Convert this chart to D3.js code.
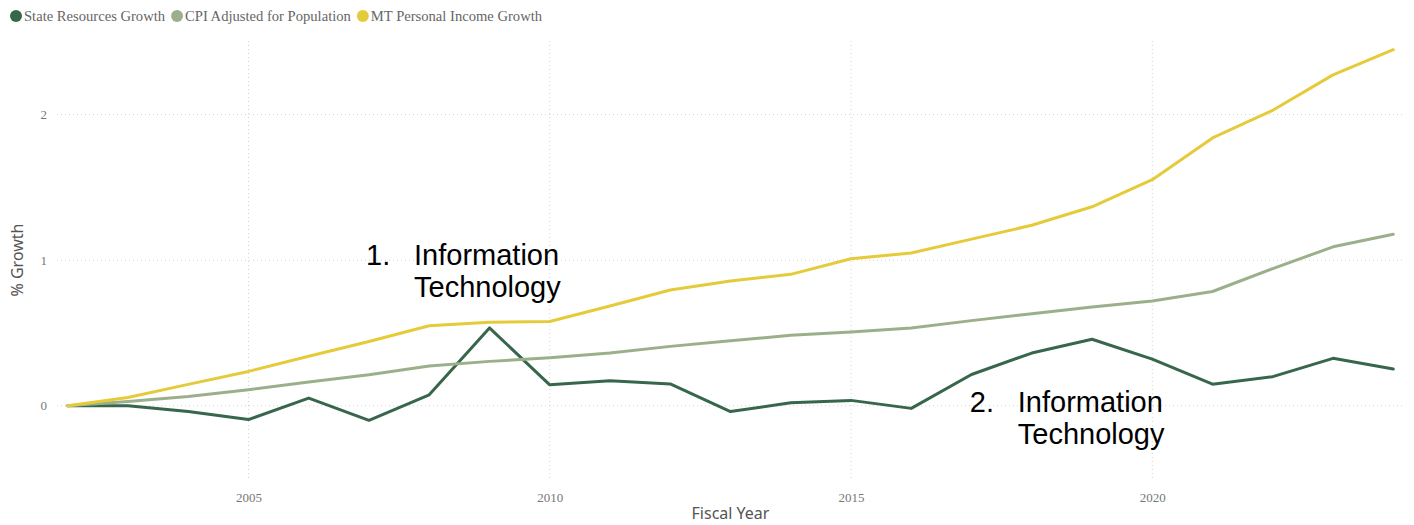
<!DOCTYPE html>
<html>
<head>
<meta charset="utf-8">
<script src="https://cdn.jsdelivr.net/npm/d3@7"></script>
<style>
  body { margin: 0; background: #fff; }
</style>
</head>
<body>
<svg width="1414" height="525"></svg>
<script>
const width = 1414;
const height = 525;

// data
const years = d3.range(2002, 2025);
const stateResources = [0, 0, -0.04, -0.095, 0.053, -0.1, 0.075, 0.535, 0.144, 0.172, 0.15, -0.04, 0.02, 0.037, -0.018, 0.215, 0.362, 0.457, 0.32, 0.148, 0.2, 0.326, 0.252];
const cpiAdjusted = [0, 0.03, 0.064, 0.11, 0.163, 0.213, 0.273, 0.305, 0.33, 0.363, 0.408, 0.447, 0.484, 0.507, 0.534, 0.585, 0.632, 0.678, 0.72, 0.785, 0.942, 1.092, 1.178];
const personalIncome = [0, 0.057, 0.147, 0.236, 0.34, 0.442, 0.55, 0.573, 0.579, 0.685, 0.795, 0.857, 0.903, 1.01, 1.05, 1.145, 1.24, 1.367, 1.553, 1.84, 2.03, 2.273, 2.446];
const seriesNames = ['State Resources Growth', 'CPI Adjusted for Population', 'MT Personal Income Growth'];
const seriesColors = ['#37664b', '#9bb08a', '#e5cb3a'];
const xTicks = [2005, 2010, 2015, 2020];
const yTicks = [0, 1, 2];
const notes = [
  { num: '1.', lines: ['Information', 'Technology'], year: 2007.98, value: 0.97 },
  { num: '2.', lines: ['Information', 'Technology'], year: 2018.0, value: -0.04 }
];

const series = [stateResources, cpiAdjusted, personalIncome].map((vals, i) => ({
  name: seriesNames[i],
  color: seriesColors[i],
  values: vals.map((v, j) => ({ year: years[j], v: v }))
}));

const svg = d3.select('svg');

const plot = { left: 57, right: 1404, top: 41, bottom: 480 };

const x = d3.scaleLinear()
  .domain([2002, 2024])
  .range([67.7, 1393.3]);

const y = d3.scaleLinear()
  .domain([-0.51, 2.506])
  .range([plot.bottom, plot.top]);

// gridlines
svg.append('g')
  .selectAll('line')
  .data(xTicks)
  .enter()
  .append('line')
  .attr('x1', d => x(d))
  .attr('x2', d => x(d))
  .attr('y1', plot.top)
  .attr('y2', plot.bottom)
  .attr('stroke', '#d2d2d2')
  .attr('stroke-dasharray', '1,3');

svg.append('g')
  .selectAll('line')
  .data(yTicks)
  .enter()
  .append('line')
  .attr('x1', plot.left)
  .attr('x2', plot.right)
  .attr('y1', d => y(d))
  .attr('y2', d => y(d))
  .attr('stroke', '#d2d2d2')
  .attr('stroke-dasharray', '1,3');

// axes
const xAxis = svg.append('g')
  .attr('transform', `translate(0,${plot.bottom})`)
  .call(d3.axisBottom(x).tickValues(xTicks).tickFormat(d3.format('d')).tickSize(0).tickPadding(13));

const yAxis = svg.append('g')
  .attr('transform', `translate(${plot.left - 10},0)`)
  .call(d3.axisLeft(y).tickValues(yTicks).tickFormat(d3.format('d')).tickSize(0).tickPadding(0));

[xAxis, yAxis].forEach(a => {
  a.select('.domain').remove();
  a.selectAll('text')
    .attr('font-family', 'Liberation Serif, serif')
    .attr('font-size', 13)
    .attr('fill', '#777');
});

// axis titles
svg.append('text')
  .attr('x', (x.range()[0] + x.range()[1]) / 2)
  .attr('y', 519)
  .attr('text-anchor', 'middle')
  .attr('font-family', 'Noto Sans, sans-serif')
  .attr('font-size', 16)
  .attr('fill', '#555')
  .text('Fiscal Year');

svg.append('text')
  .attr('transform', 'translate(23,260) rotate(-90)')
  .attr('text-anchor', 'middle')
  .attr('font-family', 'Noto Sans, sans-serif')
  .attr('font-size', 16)
  .attr('fill', '#555')
  .text('% Growth');

// lines
const line = d3.line()
  .x(d => x(d.year))
  .y(d => y(d.v));

svg.append('g')
  .selectAll('path')
  .data(series)
  .enter()
  .append('path')
  .attr('d', d => line(d.values))
  .attr('fill', 'none')
  .attr('stroke', d => d.color)
  .attr('stroke-width', 3)
  .attr('stroke-linejoin', 'round')
  .attr('stroke-linecap', 'round');

// legend
const legend = svg.append('g').attr('transform', 'translate(16,16)');
let lx = 0;
series.forEach(s => {
  legend.append('circle')
    .attr('cx', lx)
    .attr('cy', 0)
    .attr('r', 6)
    .attr('fill', s.color);
  const t = legend.append('text')
    .attr('x', lx + 8)
    .attr('y', 5)
    .attr('font-family', 'Liberation Serif, serif')
    .attr('font-size', 14.6)
    .attr('fill', '#666')
    .text(s.name);
  lx += 8 + t.node().getComputedTextLength() + 12;
});

// annotations
notes.forEach(n => {
  const g = svg.append('g')
    .attr('font-family', 'Liberation Sans, Arial, sans-serif')
    .attr('font-size', 29)
    .attr('fill', '#000');
  g.append('text')
    .attr('x', x(n.year) - 62)
    .attr('y', y(n.value))
    .text(n.num);
  n.lines.forEach((l, i) => {
    g.append('text')
      .attr('x', x(n.year) - 14)
      .attr('y', y(n.value) + i * 32)
      .text(l);
  });
});
</script>
</body>
</html>
